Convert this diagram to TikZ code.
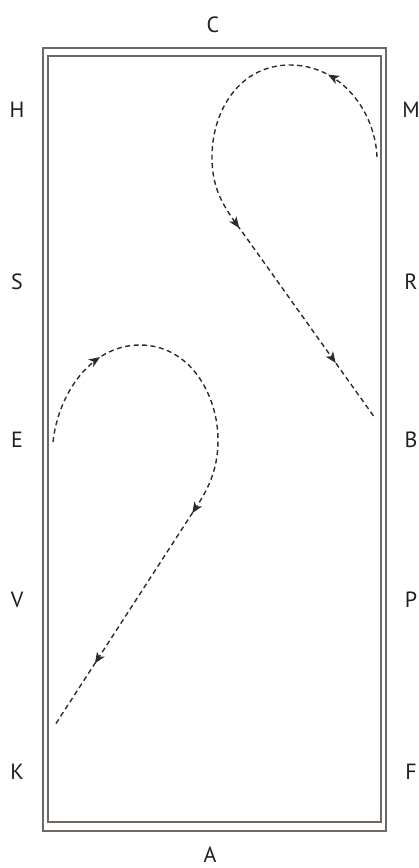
\documentclass[tikz,border=0pt]{standalone}
\usepackage{fontspec}
\setsansfont{PT Sans}
\usepackage{tikz}
\usetikzlibrary{arrows.meta,decorations.markings}
\definecolor{Rail}{HTML}{6F6862}
\definecolor{Track}{HTML}{2B2B2B}
\definecolor{Letter}{HTML}{1E1E1E}

\begin{document}
\begin{tikzpicture}[x=1pt,y=-1pt,
  letter/.style={font=\sffamily\fontsize{22}{22}\selectfont,text=Letter},
  rail/.style={Rail,line width=1.3pt},
  track/.style={Track,line width=1.4pt,dash pattern=on 5pt off 3.5pt},
  tips/.style n args={3}{postaction={decorate},decoration={markings,
    mark=at position #1 with {\arrow{Stealth[length=11pt,width=9pt,inset=3pt]}},
    mark=at position #2 with {\arrow{Stealth[length=11pt,width=9pt,inset=3pt]}},
    mark=at position #3 with {\arrow{Stealth[length=11pt,width=9pt,inset=3pt]}}}}]
  \useasboundingbox (0,0) rectangle (418,868);
  % arena, double rail
  \draw[rail] (43,48) rectangle (386,831);
  \draw[rail] (48,56) rectangle (381,822);
  % letters round the arena
  \node[letter] (C) at (213,25) {C};
  \node[letter] (A) at (210,855) {A};
  \foreach \lbl/\y in {H/110,S/282,E/440,V/600,K/772}
    \node[letter] (\lbl) at (17,\y) {\lbl};
  \foreach \lbl/\y in {M/110,R/282,B/440,P/600,F/772}
    \node[letter] (\lbl) at (411,\y) {\lbl};
  % upper loop, M towards B
  \draw[track,tips={100pt}{352pt}{518pt}] (377,157)
    .. controls (375,110) and (340,65) .. (290,65)
    .. controls (240,65) and (212,110) .. (212,157)
    .. controls (212,195) and (228,212) .. (248,240) -- (375,418);
  % lower loop, E towards K
  \draw[track,tips={100pt}{358pt}{537pt}] (53,442)
    .. controls (58,395) and (90,345) .. (140,345)
    .. controls (190,345) and (218,395) .. (218,440)
    .. controls (218,470) and (208,490) .. (193,512) -- (55,725);
\end{tikzpicture}
\end{document}
